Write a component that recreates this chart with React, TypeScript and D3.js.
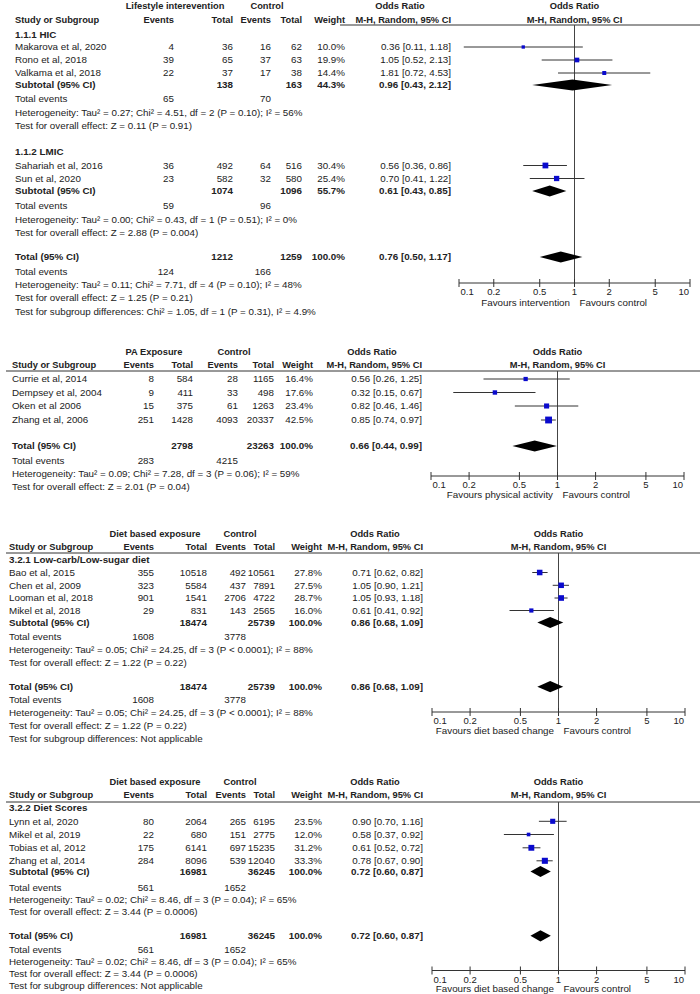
import React from "react";
import * as d3 from "d3";

type Study = { name: string; e1: number; n1: number; e2: number; n2: number; w: number; or: number; lo: number; hi: number };
type Pooled = { n1: number; n2: number; w: number; or: number; lo: number; hi: number };

// ---------- shared ----------
const tickValues = [0.1, 0.2, 0.5, 1, 2, 5, 10];
const tickLabels = ["0.1", "0.2", "0.5", "1", "2", "5", "10"];

// ---------- Panel 1: lifestyle intervention ----------
const hicStudies: Study[] = [
  { name: "Makarova et al, 2020", e1: 4, n1: 36, e2: 16, n2: 62, w: 10.0, or: 0.36, lo: 0.11, hi: 1.18 },
  { name: "Rono et al, 2018", e1: 39, n1: 65, e2: 37, n2: 63, w: 19.9, or: 1.05, lo: 0.52, hi: 2.13 },
  { name: "Valkama et al, 2018", e1: 22, n1: 37, e2: 17, n2: 38, w: 14.4, or: 1.81, lo: 0.72, hi: 4.53 },
];
const hicSubtotal: Pooled = { n1: 138, n2: 163, w: 44.3, or: 0.96, lo: 0.43, hi: 2.12 };
const hicEvents = [65, 70];
const hicStats = [
  "Heterogeneity: Tau² = 0.27; Chi² = 4.51, df = 2 (P = 0.10); I² = 56%",
  "Test for overall effect: Z = 0.11 (P = 0.91)",
];
const lmicStudies: Study[] = [
  { name: "Sahariah et al, 2016", e1: 36, n1: 492, e2: 64, n2: 516, w: 30.4, or: 0.56, lo: 0.36, hi: 0.86 },
  { name: "Sun et al, 2020", e1: 23, n1: 582, e2: 32, n2: 580, w: 25.4, or: 0.70, lo: 0.41, hi: 1.22 },
];
const lmicSubtotal: Pooled = { n1: 1074, n2: 1096, w: 55.7, or: 0.61, lo: 0.43, hi: 0.85 };
const lmicEvents = [59, 96];
const lmicStats = [
  "Heterogeneity: Tau² = 0.00; Chi² = 0.43, df = 1 (P = 0.51); I² = 0%",
  "Test for overall effect: Z = 2.88 (P = 0.004)",
];
const p1Total: Pooled = { n1: 1212, n2: 1259, w: 100.0, or: 0.76, lo: 0.50, hi: 1.17 };
const p1TotalEvents = [124, 166];
const p1TotalStats = [
  "Heterogeneity: Tau² = 0.11; Chi² = 7.71, df = 4 (P = 0.10); I² = 48%",
  "Test for overall effect: Z = 1.25 (P = 0.21)",
  "Test for subgroup differences: Chi² = 1.05, df = 1 (P = 0.31), I² = 4.9%",
];

// ---------- Panel 2: physical activity ----------
const paStudies: Study[] = [
  { name: "Currie et al, 2014", e1: 8, n1: 584, e2: 28, n2: 1165, w: 16.4, or: 0.56, lo: 0.26, hi: 1.25 },
  { name: "Dempsey et al, 2004", e1: 9, n1: 411, e2: 33, n2: 498, w: 17.6, or: 0.32, lo: 0.15, hi: 0.67 },
  { name: "Oken et al 2006", e1: 15, n1: 375, e2: 61, n2: 1263, w: 23.4, or: 0.82, lo: 0.46, hi: 1.46 },
  { name: "Zhang et al, 2006", e1: 251, n1: 1428, e2: 4093, n2: 20337, w: 42.5, or: 0.85, lo: 0.74, hi: 0.97 },
];
const paTotal: Pooled = { n1: 2798, n2: 23263, w: 100.0, or: 0.66, lo: 0.44, hi: 0.99 };
const paEvents = [283, 4215];
const paStats = [
  "Heterogeneity: Tau² = 0.09; Chi² = 7.28, df = 3 (P = 0.06); I² = 59%",
  "Test for overall effect: Z = 2.01 (P = 0.04)",
];

// ---------- Panel 3: low-carb / low-sugar ----------
const lowCarbStudies: Study[] = [
  { name: "Bao et al, 2015", e1: 355, n1: 10518, e2: 492, n2: 10561, w: 27.8, or: 0.71, lo: 0.62, hi: 0.82 },
  { name: "Chen et al, 2009", e1: 323, n1: 5584, e2: 437, n2: 7891, w: 27.5, or: 1.05, lo: 0.90, hi: 1.21 },
  { name: "Looman et al, 2018", e1: 901, n1: 1541, e2: 2706, n2: 4722, w: 28.7, or: 1.05, lo: 0.93, hi: 1.18 },
  { name: "Mikel et al, 2018", e1: 29, n1: 831, e2: 143, n2: 2565, w: 16.0, or: 0.61, lo: 0.41, hi: 0.92 },
];
const lowCarbPooled: Pooled = { n1: 18474, n2: 25739, w: 100.0, or: 0.86, lo: 0.68, hi: 1.09 };
const lowCarbEvents = [1608, 3778];
const lowCarbStats = [
  "Heterogeneity: Tau² = 0.05; Chi² = 24.25, df = 3 (P < 0.0001); I² = 88%",
  "Test for overall effect: Z = 1.22 (P = 0.22)",
];

// ---------- Panel 4: diet scores ----------
const scoreStudies: Study[] = [
  { name: "Lynn et al, 2020", e1: 80, n1: 2064, e2: 265, n2: 6195, w: 23.5, or: 0.90, lo: 0.70, hi: 1.16 },
  { name: "Mikel et al, 2019", e1: 22, n1: 680, e2: 151, n2: 2775, w: 12.0, or: 0.58, lo: 0.37, hi: 0.92 },
  { name: "Tobias et al, 2012", e1: 175, n1: 6141, e2: 697, n2: 15235, w: 31.2, or: 0.61, lo: 0.52, hi: 0.72 },
  { name: "Zhang et al, 2014", e1: 284, n1: 8096, e2: 539, n2: 12040, w: 33.3, or: 0.78, lo: 0.67, hi: 0.90 },
];
const scorePooled: Pooled = { n1: 16981, n2: 36245, w: 100.0, or: 0.72, lo: 0.60, hi: 0.87 };
const scoreEvents = [561, 1652];
const scoreStats = [
  "Heterogeneity: Tau² = 0.02; Chi² = 8.46, df = 3 (P = 0.04); I² = 65%",
  "Test for overall effect: Z = 3.44 (P = 0.0006)",
];
const notApplicable = "Test for subgroup differences: Not applicable";

// ---------- styling ----------
const FONT = "'Liberation Sans', Arial, Helvetica, sans-serif";
const FS = 9.8;
const HFS = 9.3;
const TXT = "#222";
const SQ = "#0a0acd";

type Layout = {
  name: number; e1: number; n1: number; e2: number; n2: number; w: number; or: number;
  expC: number; ctlC: number; orC: number; ax0: number; ax1: number;
  h1: number; h2: number; sep: number; sepX0: number; axisY: number; favDy: number;
};

type Row =
  | { kind: "title"; y: number; text: string }
  | { kind: "study"; y: number; s: Study }
  | { kind: "pooled"; y: number; label: string; p: Pooled }
  | { kind: "events"; y: number; ev: number[] }
  | { kind: "text"; y: number; text: string };

const fmtOR = (o: number, l: number, h: number) => `${o.toFixed(2)} [${l.toFixed(2)}, ${h.toFixed(2)}]`;

function Txt(props: { x: number; y: number; anchor?: string; bold?: boolean; size?: number; children: React.ReactNode }) {
  const { x, y, anchor = "start", bold = false, size = FS, children } = props;
  return (
    <text x={x} y={y} dy="0.35em" textAnchor={anchor as any} fontWeight={bold ? "bold" : "normal"} fontSize={size} fill={TXT}>
      {children}
    </text>
  );
}

function Panel(props: { L: Layout; expLabel: string; favL: string; favR: string; rows: Row[] }) {
  const { L, expLabel, favL, favR, rows } = props;
  const x = d3.scaleLog().domain([0.1, 10]).range([L.ax0, L.ax1]);
  const x1 = x(1);
  const sq = (w: number) => 1.05 * Math.sqrt(w);
  const dh = 5.6;
  return (
    <g>
      {/* headers */}
      <Txt x={L.expC} y={L.h1} anchor="middle" bold size={HFS}>{expLabel}</Txt>
      <Txt x={L.ctlC} y={L.h1} anchor="middle" bold size={HFS}>Control</Txt>
      <Txt x={L.orC} y={L.h1} anchor="middle" bold size={HFS}>Odds Ratio</Txt>
      <Txt x={x1} y={L.h1} anchor="middle" bold size={HFS}>Odds Ratio</Txt>
      <Txt x={L.name} y={L.h2} bold size={HFS}>Study or Subgroup</Txt>
      <Txt x={L.e1} y={L.h2} anchor="end" bold size={HFS}>Events</Txt>
      <Txt x={L.n1} y={L.h2} anchor="end" bold size={HFS}>Total</Txt>
      <Txt x={L.e2} y={L.h2} anchor="end" bold size={HFS}>Events</Txt>
      <Txt x={L.n2} y={L.h2} anchor="end" bold size={HFS}>Total</Txt>
      <Txt x={L.w} y={L.h2} anchor="end" bold size={HFS}>Weight</Txt>
      <Txt x={L.or} y={L.h2} anchor="end" bold size={HFS}>M-H, Random, 95% CI</Txt>
      <Txt x={x1} y={L.h2} anchor="middle" bold size={HFS}>M-H, Random, 95% CI</Txt>
      <line x1={L.sepX0} x2={700} y1={L.sep} y2={L.sep} stroke="#333" strokeWidth={1} />
      {/* line of no effect */}
      <line x1={x1} x2={x1} y1={L.sep} y2={L.axisY} stroke="#444" strokeWidth={1} />

      {rows.map((r, i) => {
        if (r.kind === "title") return <Txt key={i} x={L.name} y={r.y} bold>{r.text}</Txt>;
        if (r.kind === "text") return <Txt key={i} x={L.name} y={r.y}>{r.text}</Txt>;
        if (r.kind === "events")
          return (
            <g key={i}>
              <Txt x={L.name} y={r.y}>Total events</Txt>
              <Txt x={L.e1} y={r.y} anchor="end">{r.ev[0]}</Txt>
              <Txt x={L.e2} y={r.y} anchor="end">{r.ev[1]}</Txt>
            </g>
          );
        if (r.kind === "study") {
          const s = r.s;
          const z = sq(s.w);
          return (
            <g key={i}>
              <Txt x={L.name} y={r.y}>{s.name}</Txt>
              <Txt x={L.e1} y={r.y} anchor="end">{s.e1}</Txt>
              <Txt x={L.n1} y={r.y} anchor="end">{s.n1}</Txt>
              <Txt x={L.e2} y={r.y} anchor="end">{s.e2}</Txt>
              <Txt x={L.n2} y={r.y} anchor="end">{s.n2}</Txt>
              <Txt x={L.w} y={r.y} anchor="end">{s.w.toFixed(1) + "%"}</Txt>
              <Txt x={L.or} y={r.y} anchor="end">{fmtOR(s.or, s.lo, s.hi)}</Txt>
              <line x1={x(s.lo)} x2={x(s.hi)} y1={r.y} y2={r.y} stroke="#333" strokeWidth={1} />
              <rect x={x(s.or) - z / 2} y={r.y - z / 2} width={z} height={z} fill={SQ} />
            </g>
          );
        }
        const p = r.p;
        const pts = [
          [x(p.lo), r.y],
          [x(p.or), r.y - dh],
          [x(p.hi), r.y],
          [x(p.or), r.y + dh],
        ].map((q) => q.join(",")).join(" ");
        return (
          <g key={i}>
            <Txt x={L.name} y={r.y} bold>{r.label}</Txt>
            <Txt x={L.n1} y={r.y} anchor="end" bold>{p.n1}</Txt>
            <Txt x={L.n2} y={r.y} anchor="end" bold>{p.n2}</Txt>
            <Txt x={L.w} y={r.y} anchor="end" bold>{p.w.toFixed(1) + "%"}</Txt>
            <Txt x={L.or} y={r.y} anchor="end" bold>{fmtOR(p.or, p.lo, p.hi)}</Txt>
            <polygon points={pts} fill="#000" />
          </g>
        );
      })}

      {/* axis */}
      <line x1={L.ax0} x2={L.ax1} y1={L.axisY} y2={L.axisY} stroke="#333" strokeWidth={1} />
      {tickValues.map((t, i) => (
        <g key={"t" + i}>
          <line x1={x(t)} x2={x(t)} y1={L.axisY - 4} y2={L.axisY + 4} stroke="#333" strokeWidth={1} />
          <Txt
            x={i === 0 ? x(t) + 1.5 : i === tickValues.length - 1 ? x(t) - 1 : x(t)}
            y={L.axisY + 9}
            anchor={i === 0 ? "start" : i === tickValues.length - 1 ? "end" : "middle"}
            size={9.5}
          >
            {tickLabels[i]}
          </Txt>
        </g>
      ))}
      <Txt x={x1 - 4.5} y={L.axisY + L.favDy} anchor="end">{favL}</Txt>
      <Txt x={x1 + 5} y={L.axisY + L.favDy}>{favR}</Txt>
    </g>
  );
}

const L1: Layout = { name: 15, e1: 174, n1: 233, e2: 271, n2: 302, w: 345, or: 451, expC: 175, ctlC: 267, orC: 400, ax0: 459, ax1: 690, h1: 6, h2: 20, sep: 25, sepX0: 340, axisY: 283, favDy: 20 };
const L2: Layout = { name: 12, e1: 154, n1: 193, e2: 238, n2: 274, w: 313, or: 422, expC: 154, ctlC: 234, orC: 372, ax0: 431, ax1: 684, h1: 352, h2: 365, sep: 371, sepX0: 6, axisY: 476, favDy: 19 };
const L3: Layout = { name: 9, e1: 154, n1: 207, e2: 246, n2: 275, w: 322, or: 423, expC: 155, ctlC: 240, orC: 375, ax0: 432, ax1: 685, h1: 534, h2: 547, sep: 553, sepX0: 6, axisY: 712, favDy: 19 };
const L4: Layout = { ...L3, h1: 782, h2: 795, sep: 802, axisY: 970.5, favDy: 18 };

const rowsAt = (studies: Study[], ys: number[]): Row[] => studies.map((s, i) => ({ kind: "study", y: ys[i], s }));
const textsAt = (texts: string[], ys: number[]): Row[] => texts.map((t, i) => ({ kind: "text", y: ys[i], text: t }));

const rows1: Row[] = [
  { kind: "title", y: 35, text: "1.1.1 HIC" },
  ...rowsAt(hicStudies, [47, 60, 73]),
  { kind: "pooled", y: 85, label: "Subtotal (95% CI)", p: hicSubtotal },
  { kind: "events", y: 99, ev: hicEvents },
  ...textsAt(hicStats, [112.7, 126]),
  { kind: "title", y: 151.7, text: "1.1.2 LMIC" },
  ...rowsAt(lmicStudies, [165.5, 178.5]),
  { kind: "pooled", y: 191, label: "Subtotal (95% CI)", p: lmicSubtotal },
  { kind: "events", y: 206, ev: lmicEvents },
  ...textsAt(lmicStats, [219.5, 232.7]),
  { kind: "pooled", y: 257, label: "Total (95% CI)", p: p1Total },
  { kind: "events", y: 271.5, ev: p1TotalEvents },
  ...textsAt(p1TotalStats, [284.7, 297.8, 311.3]),
];

const rows2: Row[] = [
  ...rowsAt(paStudies, [379, 392.5, 406, 420]),
  { kind: "pooled", y: 446, label: "Total (95% CI)", p: paTotal },
  { kind: "events", y: 460.5, ev: paEvents },
  ...textsAt(paStats, [473.5, 487]),
];

const rows3: Row[] = [
  { kind: "title", y: 559.5, text: "3.2.1 Low-carb/Low-sugar diet" },
  ...rowsAt(lowCarbStudies, [572.5, 585.3, 598, 610.5]),
  { kind: "pooled", y: 622.5, label: "Subtotal (95% CI)", p: lowCarbPooled },
  { kind: "events", y: 636.7, ev: lowCarbEvents },
  ...textsAt(lowCarbStats, [649.3, 662.7]),
  { kind: "pooled", y: 686.7, label: "Total (95% CI)", p: lowCarbPooled },
  { kind: "events", y: 700, ev: lowCarbEvents },
  ...textsAt([...lowCarbStats, notApplicable], [712.7, 726, 738.5]),
];

const rows4: Row[] = [
  { kind: "title", y: 807.5, text: "3.2.2 Diet Scores" },
  ...rowsAt(scoreStudies, [821.3, 834.5, 847.8, 860.8]),
  { kind: "pooled", y: 871.5, label: "Subtotal (95% CI)", p: scorePooled },
  { kind: "events", y: 887.3, ev: scoreEvents },
  ...textsAt(scoreStats, [899.5, 911.8]),
  { kind: "pooled", y: 935.8, label: "Total (95% CI)", p: scorePooled },
  { kind: "events", y: 949.3, ev: scoreEvents },
  ...textsAt([...scoreStats, notApplicable], [961.7, 974, 985.5]),
];

export default function App() {
  return (
    <svg
      width={700}
      height={994}
      viewBox="0 0 700 994"
      style={{ position: "absolute", left: 0, top: 0, background: "#fff" }}
      fontFamily={FONT}
    >
      <rect x={0} y={0} width={700} height={994} fill="#fff" />
      <Panel L={L1} expLabel="Lifestyle interevention" favL="Favours intervention" favR="Favours control" rows={rows1} />
      <Panel L={L2} expLabel="PA Exposure" favL="Favours physical activity" favR="Favours control" rows={rows2} />
      <Panel L={L3} expLabel="Diet based exposure" favL="Favours diet based change" favR="Favours control" rows={rows3} />
      <Panel L={L4} expLabel="Diet based exposure" favL="Favours diet based change" favR="Favours control" rows={rows4} />
    </svg>
  );
}
